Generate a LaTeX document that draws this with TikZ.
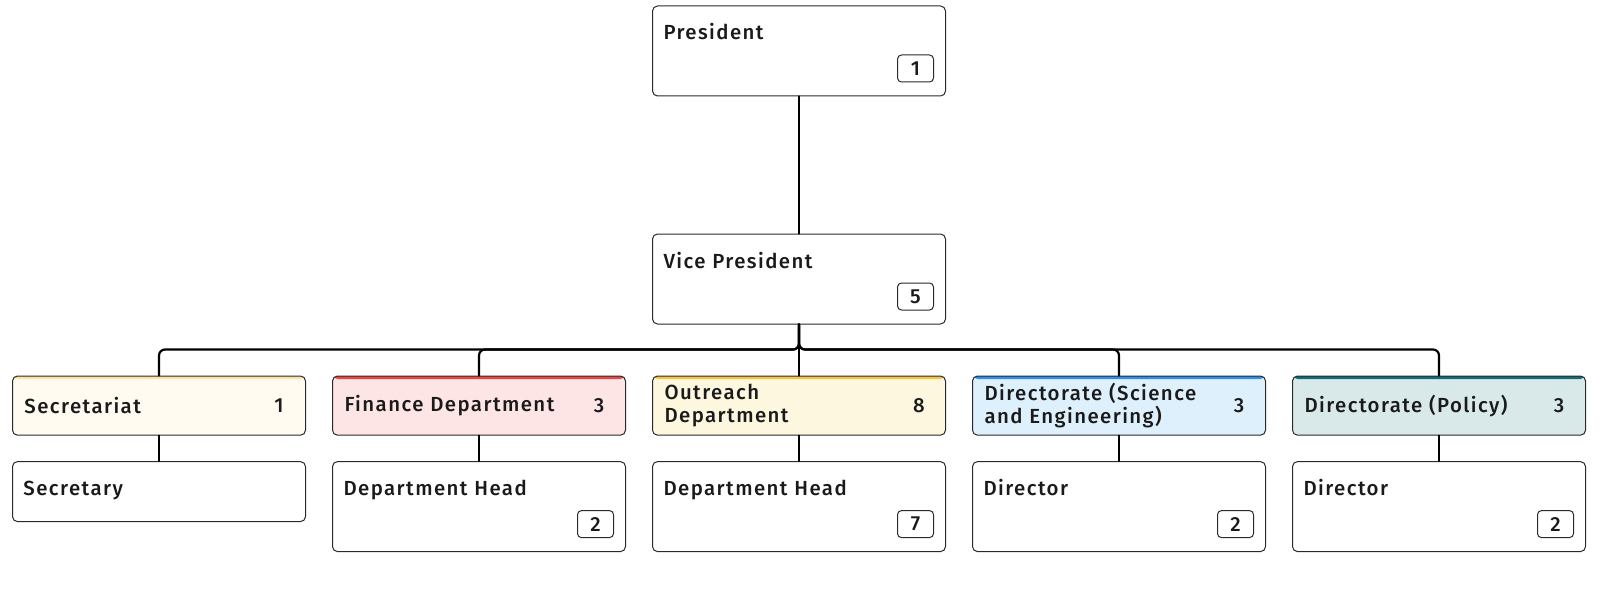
\documentclass[tikz,border=0pt]{standalone}
\usepackage{fontspec}
\setmainfont{Fira Sans}[UprightFont=* Medium,LetterSpace=7]
\usetikzlibrary{positioning}

\definecolor{boxline}{HTML}{2A2A2A}
\definecolor{ink}{HTML}{1A1A1A}
\definecolor{secfill}{HTML}{FFFBF1}
\definecolor{secbar}{HTML}{FCE2A6}
\definecolor{finfill}{HTML}{FDE5E5}
\definecolor{finbar}{HTML}{EE4444}
\definecolor{outfill}{HTML}{FDF7E0}
\definecolor{outbar}{HTML}{F3C63F}
\definecolor{dsefill}{HTML}{DDF0FC}
\definecolor{dsebar}{HTML}{2A8FEF}
\definecolor{polfill}{HTML}{D9E9EA}
\definecolor{polbar}{HTML}{0F6C72}

\begin{document}
\begin{tikzpicture}[
    x=1pt,y=1pt,
    line join=round,line cap=round,
    font=\fontsize{10.2}{11.5}\selectfont,text=ink,
    box/.style={rectangle,draw=boxline,line width=0.5pt,fill=white,
        rounded corners=2.5pt,minimum width=146.5pt,inner ysep=0pt},
    role/.style={box,text width=135.5pt,inner xsep=5.5pt,align=left,
        text height=17pt,text depth=28pt},
    single/.style={role,text depth=13pt},
    unit/.style 2 args={box,fill=#1,text width=134.5pt,inner xsep=6pt,
        align=left,minimum height=29.6pt,
        path picture={\fill[#2] (path picture bounding box.north west)
            rectangle ([yshift=-1.5pt]path picture bounding box.north east);}},
    badge/.style={rectangle,draw=boxline,line width=0.5pt,rounded corners=2pt,
        minimum width=18pt,minimum height=13.5pt,inner sep=0pt},
    count/.style={inner sep=0pt},
    link/.style={draw=black,line width=1.1pt,rounded corners=3pt},
    node distance=12.7pt and 13pt
  ]
    \useasboundingbox (0,0) rectangle (800,-299.5);

    % Leitung
    \node[role] (pres) at (399.5,-25.5) {President};
    \node[role,below=68.5pt of pres] (vp) {Vice President};
    \node[badge,above left=7pt and 6pt of pres.south east] (pres-n) {1};
    \node[badge,above left=7pt and 6pt of vp.south east] (vp-n) {5};

    % Abteilungen
    \node[unit={outfill}{outbar},below=25.5pt of vp] (out) {Outreach\\Department};
    \node[unit={finfill}{finbar},left=of out] (fin) {Finance Department};
    \node[unit={secfill}{secbar},left=of fin] (sec) {Secretariat};
    \node[unit={dsefill}{dsebar},right=of out] (dse) {Directorate (Science\\and Engineering)};
    \node[unit={polfill}{polbar},right=of dse] (pol) {Directorate (Policy)};
    \foreach \d/\n in {sec/1,fin/3,out/8,dse/3,pol/3}
        \node[count] (\d-n) at ([xshift=-13.5pt]\d.east) {\n};

    % Stellen
    \node[single,below=of sec] (secy) {Secretary};
    \node[role,below=of fin] (finh) {Department Head};
    \node[role,below=of out] (outh) {Department Head};
    \node[role,below=of dse] (dseh) {Director};
    \node[role,below=of pol] (polh) {Director};
    \foreach \h/\n in {finh/2,outh/7,dseh/2,polh/2}
        \node[badge,above left=7pt and 6pt of \h.south east] (\h-n) {\n};

    \coordinate[below=12.5pt of vp.south] (bus);
    \draw[link] (pres) -- (vp);
    \foreach \d in {sec,fin,out,dse,pol}
        \draw[link] (vp.south) |- (bus -| \d.north) -- (\d.north);
    \foreach \d/\h in {sec/secy,fin/finh,out/outh,dse/dseh,pol/polh}
        \draw[link] (\d) -- (\h);
\end{tikzpicture}
\end{document}
